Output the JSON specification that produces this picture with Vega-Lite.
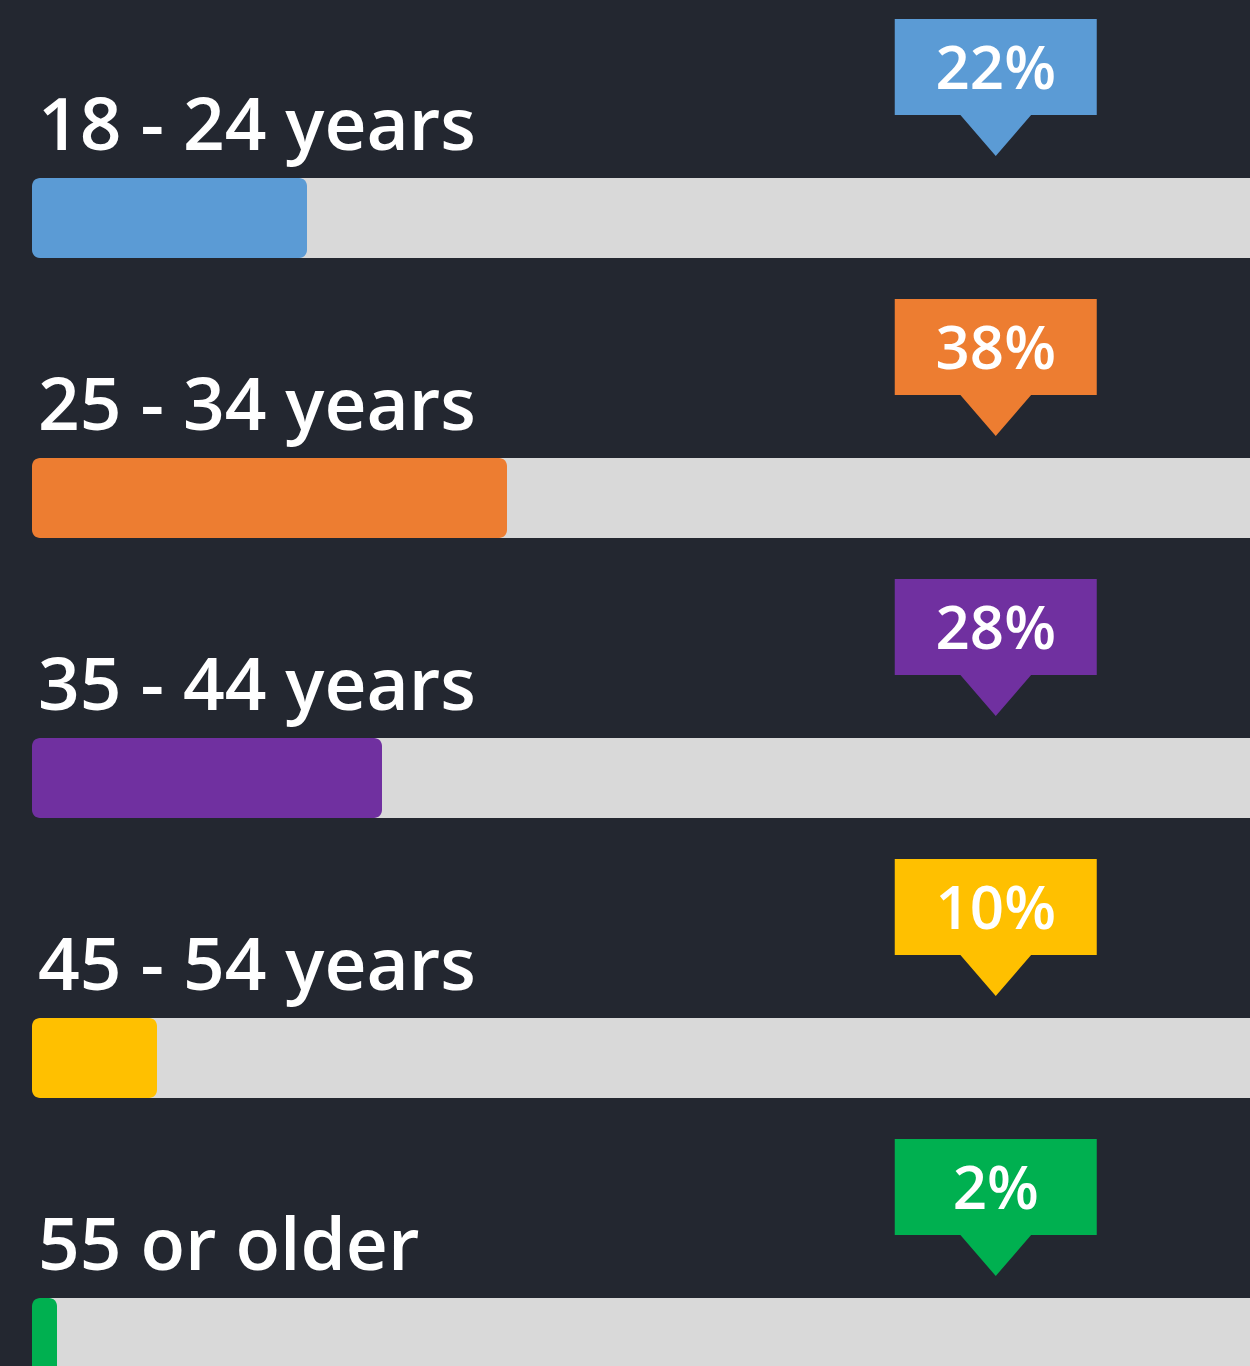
{
  "$schema": "https://vega.github.io/schema/vega-lite/v6.json",
  "width": 1250,
  "height": 1366,
  "autosize": {"type": "none"},
  "padding": 0,
  "background": "#232730",
  "config": {"view": {"stroke": null}},
  "data": {
    "values": [
      {"group": "18 - 24 years", "pct": 0.22},
      {"group": "25 - 34 years", "pct": 0.38},
      {"group": "35 - 44 years", "pct": 0.28},
      {"group": "45 - 54 years", "pct": 0.10},
      {"group": "55 or older", "pct": 0.02}
    ]
  },
  "encoding": {
    "y": {
      "field": "group",
      "type": "nominal",
      "sort": null,
      "axis": null,
      "scale": {"range": [0, 1400], "paddingInner": 0, "paddingOuter": 0}
    }
  },
  "layer": [
    {
      "mark": {"type": "bar", "color": "#d9d9d9", "height": 80, "yOffset": 78, "clip": true, "cornerRadius": 8},
      "encoding": {
        "x": {"datum": 1.2, "type": "quantitative", "scale": {"domain": [-0.0256, 0.9744], "nice": false, "zero": false}, "axis": null},
        "x2": {"datum": 0.005}
      }
    },
    {
      "mark": {"type": "bar", "height": 80, "yOffset": 78, "cornerRadius": 8},
      "encoding": {
        "x": {"field": "pct", "type": "quantitative"},
        "x2": {"datum": 0},
        "color": {
          "field": "group",
          "type": "nominal",
          "sort": null,
          "legend": null,
          "scale": {"range": ["#5b9bd5", "#ed7d31", "#7030a0", "#ffc000", "#00b050"]}
        }
      }
    },
    {
      "mark": {
        "type": "point",
        "filled": true,
        "opacity": 1,
        "size": 40804,
        "strokeWidth": 0,
        "yOffset": -73,
        "shape": "M-1,-0.475 L1,-0.475 L1,0.475 L0.35,0.475 L0,0.881 L-0.35,0.475 L-1,0.475 Z"
      },
      "encoding": {
        "x": {"datum": 0.771, "type": "quantitative"},
        "color": {"field": "group", "type": "nominal", "sort": null, "legend": null}
      }
    },
    {
      "mark": {
        "type": "text",
        "font": "Open Sans",
        "fontWeight": 600,
        "fontSize": 60,
        "color": "white",
        "align": "center",
        "baseline": "alphabetic",
        "yOffset": -51
      },
      "encoding": {
        "x": {"datum": 0.771, "type": "quantitative"},
        "text": {"field": "pct", "type": "quantitative", "format": ".0%"}
      }
    },
    {
      "mark": {
        "type": "text",
        "font": "Open Sans",
        "fontWeight": 600,
        "fontSize": 73,
        "color": "white",
        "align": "left",
        "baseline": "alphabetic",
        "dx": 6,
        "yOffset": 10
      },
      "encoding": {
        "x": {"datum": 0, "type": "quantitative"},
        "text": {"field": "group", "type": "nominal"}
      }
    }
  ]
}
